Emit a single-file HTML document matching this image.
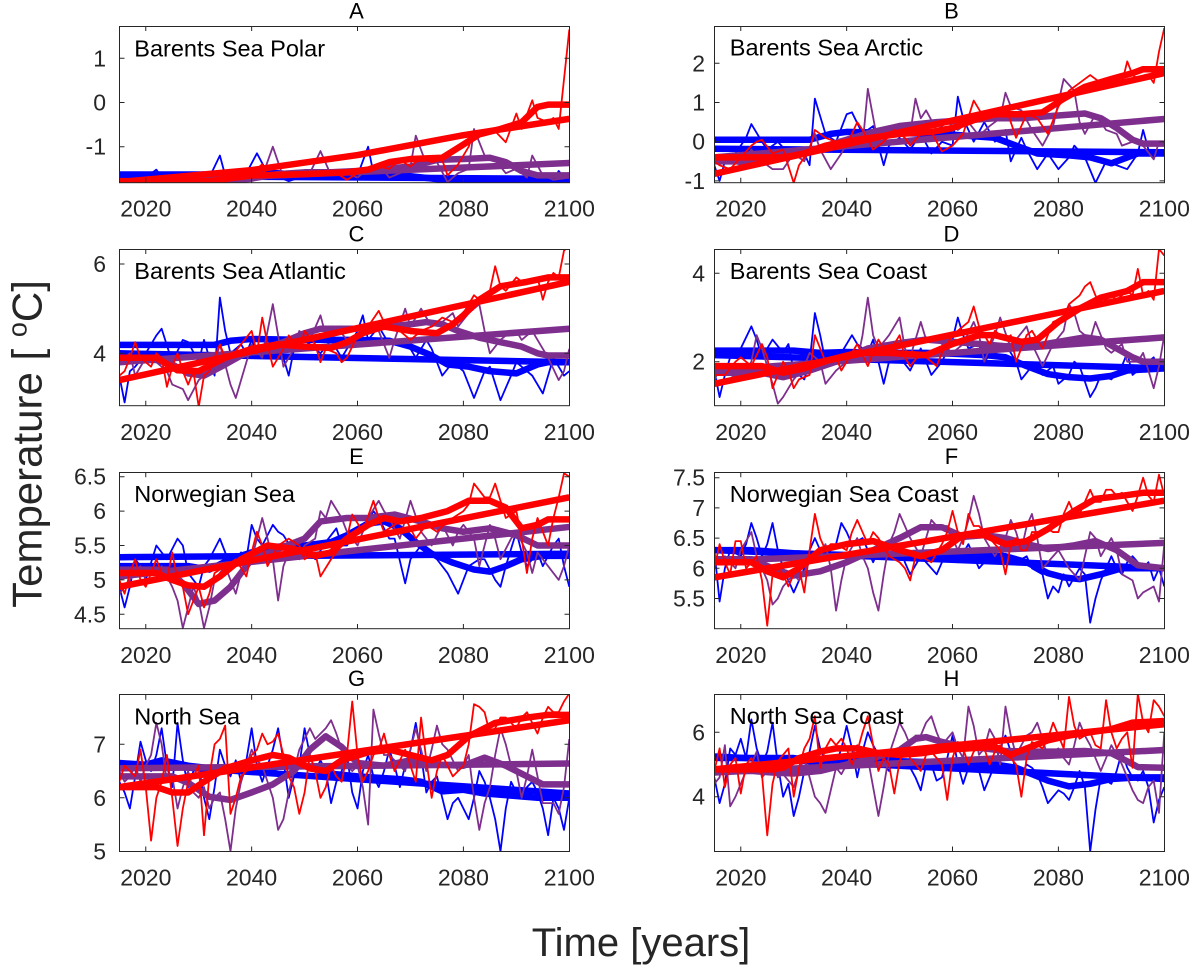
<!DOCTYPE html>
<html><head><meta charset="utf-8"><style>
html,body{margin:0;padding:0;background:#fff}
svg{display:block}
.t{fill:none;stroke-width:1.8px;vector-effect:non-scaling-stroke;stroke-linejoin:round}
.k{fill:none;stroke-width:6.5px;vector-effect:non-scaling-stroke;stroke-linejoin:round}
.b{stroke:#0000ff}.p{stroke:#7e2f8e}.r{stroke:#ff0000}
.tl{font-family:"Liberation Sans",Arial,sans-serif;font-size:23px;fill:#262626}
.ttl{font-family:"Liberation Sans",Arial,sans-serif;font-size:22px;fill:#000}
.lb{font-family:"Liberation Sans",Arial,sans-serif;font-size:23.5px;fill:#000}
.ax{font-family:"Liberation Sans",Arial,sans-serif;fill:#262626}
</style></head><body>
<svg width="1193" height="965" viewBox="0 0 1193 965" xmlns="http://www.w3.org/2000/svg">
<defs>
<clipPath id="cA"><rect x="119.3" y="26" width="450" height="156.7"/></clipPath>
<clipPath id="cB"><rect x="714.3" y="26" width="450" height="156.7"/></clipPath>
<clipPath id="cC"><rect x="119.3" y="249" width="450" height="156.7"/></clipPath>
<clipPath id="cD"><rect x="714.3" y="249" width="450" height="156.7"/></clipPath>
<clipPath id="cE"><rect x="119.3" y="472.3" width="450" height="156.7"/></clipPath>
<clipPath id="cF"><rect x="714.3" y="472.3" width="450" height="156.7"/></clipPath>
<clipPath id="cG"><rect x="119.3" y="694.3" width="450" height="157.4"/></clipPath>
<clipPath id="cH"><rect x="714.3" y="694.3" width="450" height="157.4"/></clipPath>
<g id="xt"><path d="M26.47 156.7v-5M26.47 0v5M132.35 156.7v-5M132.35 0v5M238.2 156.7v-5M238.2 0v5M344.1 156.7v-5M344.1 0v5" stroke="#262626" stroke-width="1" fill="none"/></g>
</defs>
<rect width="1193" height="965" fill="#fff"/>

<!-- Panel A -->
<g clip-path="url(#cA)"><g transform="matrix(5.2941,0,0,-44.2,39.89,102.47)">
<polyline class="t b" points="15,-1.72 16,-1.7 18,-1.72 20,-1.7 22,-1.52 23,-1.7 25,-1.72 28,-1.7 30,-1.72 32,-1.7 34,-1.2 35,-1.65 37,-1.68 39,-1.6 41,-1.15 43,-1.6 45,-1.68 47,-1.78 49,-1.7 52,-1.72 55,-1.68 58,-1.7 60,-1.65 62,-1.0 63,-1.6 65,-1.6 67,-1.45 69,-1.7 72,-1.72 75,-1.75 77,-1.8 80,-1.78 83,-1.8 86,-1.78 89,-1.8 92,-1.78 95,-1.8 97,-1.75 98,-1.55 99,-1.7 100,-1.72"/>
<polyline class="k b" points="15,-1.63 35,-1.63 38,-1.6 45,-1.6 50,-1.65 60,-1.65 70,-1.67 74,-1.72 78,-1.78 100,-1.78"/>
<polyline class="k b" points="15,-1.66 100,-1.73"/>
<polyline class="t p" points="15,-1.8 20,-1.8 25,-1.78 30,-1.75 34,-1.65 36,-1.75 40,-1.7 42,-1.68 44,-1.0 46,-1.7 49,-1.65 51,-1.6 53,-1.1 55,-1.65 57,-1.55 60,-1.7 62,-1.5 64,-1.4 66,-1.7 68,-1.6 70,-1.45 71,-0.75 73,-1.4 75,-1.35 77,-1.8 79,-1.6 81,-1.5 82,-0.6 84,-1.2 86,-1.3 88,-1.6 90,-1.5 92,-1.7 93,-1.2 95,-1.65 97,-1.75 100,-1.7"/>
<polyline class="k p" points="15,-1.8 35,-1.8 40,-1.72 45,-1.62 50,-1.58 55,-1.58 60,-1.55 65,-1.5 70,-1.45 75,-1.3 80,-1.28 85,-1.25 88,-1.35 91,-1.55 94,-1.65 100,-1.65"/>
<polyline class="k p" points="15,-1.8 100,-1.37"/>
<polyline class="t r" points="15,-1.78 20,-1.76 25,-1.78 28,-1.75 32,-1.8 35,-1.72 38,-1.68 40,-1.6 42,-1.4 43,-1.7 45,-1.62 47,-1.65 49,-1.58 52,-1.65 54,-1.55 56,-1.6 58,-1.75 60,-1.6 62,-1.55 64,-1.45 66,-1.5 68,-1.3 70,-1.45 72,-1.25 74,-1.35 76,-1.3 77,-1.65 79,-1.4 81,-1.0 82,-0.65 84,-0.7 86,-0.65 88,-0.9 90,-0.25 91,-0.6 93,0.05 94,-0.35 96,-0.45 97,-0.35 98,-0.6 100,1.65"/>
<polyline class="k r" points="15,-1.78 32,-1.78 40,-1.65 50,-1.62 58,-1.58 62,-1.52 66,-1.35 70,-1.28 76,-1.25 80,-0.95 83,-0.72 87,-0.6 91,-0.45 94,-0.1 96,-0.05 100,-0.05"/>
<polyline class="k r" points="15,-1.8 40,-1.53 60,-1.19 80,-0.74 100,-0.37"/>
</g></g>

<!-- Panel B -->
<g clip-path="url(#cB)"><g transform="matrix(5.2941,0,0,-39.2,634.89,141.72)">
<polyline class="t b" points="15,-0.6 16,-1.0 17,-0.5 19,-0.3 21,0.1 22,0.45 24,0.0 25,-0.2 27,0.0 29,-0.3 30,-0.4 32,-0.3 33,-0.6 34,1.1 36,0.2 37,0.1 38,0.0 40,0.7 41,0.75 43,0.2 45,0.4 47,-0.6 48,-0.1 50,0.1 52,-0.2 54,0.2 56,-0.3 58,0.0 60,-0.1 61,1.15 62,0.6 64,0.0 66,0.5 68,0.0 70,0.3 71,-0.5 73,0.1 74,-0.2 76,-0.7 78,-0.3 80,-0.7 82,-0.4 83,-0.1 85,-0.4 87,-1.05 89,-0.5 91,-0.6 93,-0.7 95,-0.3 96,0.3 97,-0.2 98,-0.4 100,-0.2"/>
<polyline class="k b" points="15,0.05 33,0.05 37,0.2 40,0.25 50,0.22 58,0.2 63,0.15 68,0.1 72,-0.1 76,-0.3 82,-0.35 86,-0.4 90,-0.55 93,-0.4 95,-0.3 100,-0.3"/>
<polyline class="k b" points="15,-0.18 100,-0.27"/>
<polyline class="t p" points="15,-0.5 17,-0.4 20,-0.6 22,-0.2 24,-0.5 26,-0.7 28,-0.7 30,-0.3 32,-0.5 34,0.2 35,-0.2 37,-0.7 39,-0.3 41,0.2 43,-0.1 44,1.35 46,-0.1 48,0.2 50,0.3 52,0.2 53,1.1 54,0.6 55,0.8 57,0.3 59,0.5 61,0.3 63,0.5 65,0.15 67,0.4 69,0.6 70,1.25 71,0.9 73,0.8 75,0.3 77,-0.1 79,0.4 81,1.6 83,1.3 84,0.5 85,0.2 87,0.7 89,0.3 91,0.2 92,-0.1 94,0.0 96,-0.1 98,-0.45 99,0.0 100,-0.1"/>
<polyline class="k p" points="15,-0.5 25,-0.5 30,-0.35 35,-0.15 40,0.05 45,0.25 50,0.4 57,0.5 63,0.55 68,0.6 73,0.6 78,0.65 85,0.72 88,0.6 91,0.35 94,0.05 96,-0.05 100,-0.05"/>
<polyline class="k p" points="15,-0.4 100,0.58"/>
<polyline class="t r" points="15,-0.5 16,-0.6 18,-0.7 20,-0.4 22,-0.1 23,0.0 24,0.05 26,-0.3 28,-0.2 30,-1.05 31,-0.6 33,-0.2 34,0.3 36,0.1 38,0.0 40,-0.1 42,0.5 43,0.3 45,-0.2 47,0.0 49,0.3 51,0.1 52,-0.1 54,0.2 56,0.25 58,-0.25 60,-0.1 62,0.2 64,1.05 66,0.6 68,0.7 70,0.9 72,0.1 74,0.7 76,0.6 78,0.2 80,0.9 82,1.3 84,1.5 86,1.7 88,1.5 90,1.6 92,1.5 93,2.05 94,1.7 95,1.6 97,1.7 98,1.5 99,2.3 100,2.9"/>
<polyline class="k r" points="15,-0.4 28,-0.4 32,-0.3 36,-0.1 42,0.05 50,0.2 56,0.25 60,0.35 64,0.55 68,0.7 73,0.7 77,0.75 81,1.1 85,1.4 90,1.6 94,1.75 96,1.85 100,1.85"/>
<polyline class="k r" points="15,-0.82 100,1.75"/>
</g></g>

<!-- Panel C -->
<g clip-path="url(#cC)"><g transform="matrix(5.2941,0,0,-44.65,39.89,531.9)">
<polyline class="t b" points="15,3.5 16,2.9 17,3.6 18,3.7 20,4.0 22,4.4 23,4.55 25,3.8 27,4.3 28,4.25 30,3.8 31,4.3 32,3.9 33,3.5 34,5.25 35,4.5 36,4.0 38,4.2 39,4.0 40,4.3 41,4.0 43,4.3 44,4.2 46,3.9 47,3.5 48,4.1 49,4.4 51,4.2 53,4.0 55,4.3 57,3.9 58,4.1 60,4.5 61,4.85 62,4.3 64,4.6 66,4.2 68,4.3 70,4.1 71,3.9 73,4.3 74,4.1 76,3.5 78,3.8 80,3.6 82,3.0 84,3.6 85,3.7 87,2.95 89,3.5 90,3.8 92,3.6 93,3.5 95,3.1 97,3.9 98,3.7 99,3.5 100,3.6"/>
<polyline class="k b" points="15,4.19 33,4.19 36,4.28 40,4.32 50,4.3 60,4.3 66,4.28 70,4.15 74,3.95 77,3.75 81,3.7 85,3.6 90,3.55 94,3.75 96,3.8 100,3.8"/>
<polyline class="k b" points="15,4.0 100,3.8"/>
<polyline class="t p" points="15,3.8 17,4.0 18,3.5 20,3.9 22,3.8 24,3.6 25,3.3 27,3.2 28,2.95 30,3.4 31,3.5 33,3.8 34,4.2 36,3.3 37,3.0 39,3.8 40,4.2 42,3.9 44,5.1 45,4.4 46,3.7 48,4.1 49,4.5 51,4.3 53,4.85 54,4.4 56,4.6 58,4.3 60,4.4 62,4.6 64,4.5 66,3.9 67,4.3 69,5.0 70,4.6 72,5.0 74,4.6 76,4.7 78,4.9 79,4.6 81,4.9 83,5.1 84,4.5 85,4.0 87,4.3 88,4.4 90,4.5 91,4.3 93,4.5 94,4.3 96,3.9 98,3.4 99,3.6 100,4.1"/>
<polyline class="k p" points="15,3.85 22,3.85 25,3.75 28,3.55 31,3.5 35,3.75 38,3.95 42,4.1 46,4.25 50,4.45 53,4.55 60,4.55 66,4.6 70,4.65 73,4.7 76,4.65 79,4.5 83,4.35 87,4.25 91,4.15 94,4.0 96,3.95 100,3.95"/>
<polyline class="k p" points="15,3.8 100,4.55"/>
<polyline class="t r" points="15,3.5 16,3.6 17,3.9 18,4.25 19,3.9 21,3.7 22,4.0 23,3.9 24,3.25 25,3.7 26,4.0 27,3.6 28,3.3 29,3.6 30,2.8 31,3.5 32,3.6 34,4.2 35,3.9 36,3.9 38,4.2 40,4.5 41,4.0 42,4.8 43,4.2 44,3.7 46,4.1 47,4.4 49,4.1 50,4.5 52,4.2 53,3.8 54,4.1 56,4.0 57,3.8 58,3.9 60,4.4 62,4.6 64,4.95 65,4.7 66,4.6 68,4.5 70,4.3 72,4.5 74,4.6 76,4.8 78,4.7 80,4.9 82,5.3 83,5.2 85,5.4 86,5.95 87,5.5 88,5.4 90,5.7 91,5.6 93,5.6 94,5.7 95,5.2 96,5.6 97,5.8 98,5.7 99,6.3 100,6.4"/>
<polyline class="k r" points="15,3.9 22,3.9 26,3.62 30,3.6 35,3.9 40,4.1 45,4.2 50,4.15 55,4.12 58,4.25 61,4.45 65,4.6 70,4.5 75,4.45 78,4.65 80,4.85 83,5.2 87,5.5 92,5.6 96,5.7 100,5.7"/>
<polyline class="k r" points="15,3.4 100,5.6"/>
</g></g>

<!-- Panel D -->
<g clip-path="url(#cD)"><g transform="matrix(5.2941,0,0,-44.2,634.89,450.1)">
<polyline class="t b" points="15,1.8 16,1.2 17,1.7 18,2.1 20,2.3 22,2.8 23,2.5 24,2.1 26,2.5 28,2.2 29,2.4 30,1.8 32,1.6 33,2.0 34,3.1 35,2.6 36,2.0 38,2.1 39,2.2 41,2.6 42,2.4 44,2.2 45,2.5 47,1.5 48,2.0 50,2.1 52,1.8 54,2.3 56,1.7 58,2.0 60,2.5 61,3.0 62,2.6 63,2.3 65,2.4 66,2.0 68,2.3 70,2.4 72,2.0 73,1.6 75,1.9 77,1.7 79,1.9 80,1.5 82,1.7 83,2.0 84,1.9 86,1.2 87,1.4 88,1.7 90,1.6 92,1.9 93,2.2 94,1.7 95,1.8 97,2.0 98,2.1 99,1.8 100,1.9"/>
<polyline class="k b" points="15,2.25 30,2.25 35,2.2 40,2.22 48,2.2 55,2.2 60,2.18 66,2.15 70,2.1 74,1.9 78,1.72 82,1.65 86,1.62 90,1.68 93,1.8 100,1.85"/>
<polyline class="k b" points="15,2.15 100,1.85"/>
<polyline class="t p" points="15,1.6 16,1.8 18,1.7 20,1.6 22,2.0 23,2.6 24,2.3 26,1.5 27,1.05 28,1.2 30,1.6 32,1.9 33,2.2 35,2.0 36,1.5 38,1.8 39,1.9 41,2.1 42,2.0 43,2.6 44,3.45 45,2.6 46,2.3 48,2.6 50,3.0 51,2.3 52,2.1 54,2.9 55,2.5 57,2.5 59,2.3 60,2.2 62,2.4 64,2.9 65,2.6 66,2.0 68,2.6 69,3.0 71,2.3 72,2.5 74,2.8 75,2.4 77,1.9 79,2.4 81,2.7 82,3.3 83,3.1 84,2.7 86,2.5 87,2.9 89,2.3 90,2.2 92,2.4 93,2.0 95,2.0 96,2.2 98,1.4 99,1.9 100,2.6"/>
<polyline class="k p" points="15,1.75 24,1.75 28,1.65 33,1.8 38,2.0 44,2.3 50,2.42 55,2.5 60,2.45 65,2.4 70,2.35 75,2.35 80,2.45 85,2.55 88,2.5 91,2.3 94,2.1 96,2.0 100,2.0"/>
<polyline class="k p" points="15,1.8 100,2.55"/>
<polyline class="t r" points="15,1.7 17,1.7 19,2.0 20,2.1 22,1.9 24,2.4 25,2.1 26,1.4 28,2.0 29,1.8 30,1.4 31,1.6 33,1.7 34,2.6 35,2.3 36,2.0 38,2.1 39,1.8 41,2.2 42,2.4 44,1.9 46,2.5 47,2.3 48,2.2 50,2.6 51,2.1 52,1.9 54,2.2 55,2.1 57,1.9 58,2.2 60,2.6 62,2.8 63,2.9 64,3.25 65,2.8 67,2.4 68,2.7 70,2.5 71,2.6 72,2.0 74,2.6 75,2.7 77,2.3 78,2.6 79,2.9 81,3.0 82,3.3 84,3.5 85,3.7 86,3.8 87,3.5 88,3.3 90,3.5 91,3.4 93,3.6 94,3.5 95,4.1 96,3.5 97,3.6 98,3.4 99,4.55 100,4.4"/>
<polyline class="k r" points="15,1.9 24,1.9 28,1.75 32,1.85 37,2.05 42,2.2 48,2.2 55,2.15 60,2.4 65,2.6 68,2.6 73,2.45 76,2.5 80,2.9 84,3.2 88,3.45 93,3.6 96,3.8 100,3.8"/>
<polyline class="k r" points="15,1.5 100,3.6"/>
</g></g>

<!-- Panel E -->
<g clip-path="url(#cE)"><g transform="matrix(5.2941,0,0,-68.8,39.89,923.9)">
<polyline class="t b" points="15,4.9 16,4.6 17,4.9 18,5.3 19,5.2 20,5.0 22,5.5 23,5.4 24,5.3 26,5.6 27,5.5 28,5.1 30,4.9 31,5.2 32,5.3 34,5.6 35,5.4 36,5.2 38,5.4 39,5.3 40,5.8 41,5.6 42,5.5 44,5.8 45,5.7 46,5.65 48,5.4 49,5.6 50,5.5 52,5.3 54,5.55 56,5.75 57,5.5 58,5.5 60,5.75 61,5.7 63,6.0 64,5.9 66,5.6 67,5.6 69,4.95 70,5.3 72,5.5 73,5.4 75,5.3 77,5.1 79,4.8 80,5.0 81,5.2 83,5.3 84,5.3 86,5.0 87,4.9 88,5.2 90,5.7 91,5.4 92,5.2 94,5.4 95,5.2 97,5.5 98,5.6 99,5.2 100,4.9"/>
<polyline class="k b" points="15,5.2 28,5.2 32,5.15 36,5.3 40,5.4 44,5.48 50,5.5 55,5.55 58,5.65 62,5.82 65,5.85 68,5.75 71,5.55 74,5.38 78,5.25 82,5.15 85,5.12 88,5.2 91,5.3 95,5.35 100,5.35"/>
<polyline class="k b" points="15,5.33 100,5.38"/>
<polyline class="t p" points="15,4.8 17,5.0 19,5.2 20,5.0 22,5.0 23,5.2 25,4.9 26,4.7 27,4.3 28,4.6 29,4.9 30,4.7 31,4.3 32,4.6 33,5.0 35,5.2 36,5.0 37,4.8 38,5.1 40,5.3 42,5.9 43,5.6 44,5.3 45,4.7 46,5.2 47,5.4 49,5.3 50,5.5 52,5.6 53,6.0 54,5.9 55,6.15 57,5.9 58,5.7 60,5.5 62,5.9 64,6.15 65,6.0 66,5.9 68,5.6 70,6.15 72,5.7 74,5.5 76,5.8 78,5.5 79,5.7 80,5.8 82,5.6 83,5.2 85,5.8 86,5.6 87,5.3 89,5.6 90,5.7 92,5.4 93,5.1 94,5.4 96,5.2 97,5.1 98,5.0 99,5.2 100,5.5"/>
<polyline class="k p" points="15,5.15 24,5.15 27,4.95 30,4.65 33,4.7 36,4.9 40,5.3 45,5.45 50,5.6 53,5.85 58,5.9 62,5.9 67,5.95 72,5.85 76,5.75 80,5.7 85,5.75 90,5.65 94,5.5 100,5.5"/>
<polyline class="k p" points="15,5.05 100,5.77"/>
<polyline class="t r" points="15,5.0 16,4.8 17,5.1 18,5.3 19,5.0 20,4.9 21,5.1 22,5.3 23,5.1 24,5.0 25,5.4 26,5.0 27,4.9 28,4.5 29,4.7 30,4.9 31,4.6 32,4.8 33,5.1 35,5.2 37,5.3 39,5.05 40,5.4 41,5.7 42,5.5 43,5.2 45,5.5 47,5.6 49,5.5 50,5.3 52,5.4 53,5.05 55,5.3 57,5.5 58,5.6 59,5.95 61,5.7 63,6.15 64,5.9 65,5.7 67,5.8 69,5.9 71,5.6 73,5.8 75,5.7 77,5.85 78,5.9 80,6.0 81,6.1 82,6.4 84,6.2 85,6.2 86,6.4 88,5.9 90,6.0 91,5.6 92,5.1 93,5.6 94,5.9 96,5.5 97,5.9 98,6.2 99,6.55 100,6.5"/>
<polyline class="k r" points="15,5.1 22,5.1 25,5.0 28,4.92 31,4.9 34,5.05 38,5.3 43,5.5 48,5.45 52,5.35 55,5.4 58,5.6 62,5.8 65,5.9 68,5.85 72,5.9 77,6.0 81,6.15 85,6.15 88,6.05 91,5.75 94,5.8 96,5.88 100,5.88"/>
<polyline class="k r" points="15,4.9 100,6.2"/>
</g></g>

<!-- Panel F -->
<g clip-path="url(#cF)"><g transform="matrix(5.2941,0,0,-60.4,634.89,930.7)">
<polyline class="t b" points="15,6.3 16,5.45 17,6.0 18,6.3 20,6.2 21,6.4 22,6.75 23,6.5 24,6.2 25,6.4 26,6.75 27,6.3 28,6.0 30,5.6 31,5.8 32,6.0 33,6.3 34,6.5 35,6.3 36,6.2 38,6.4 39,6.75 40,6.6 41,6.4 43,6.5 45,6.1 46,6.3 47,6.3 49,6.2 50,6.4 51,6.1 52,5.9 54,6.2 55,6.1 57,5.9 59,6.3 60,6.2 61,6.1 63,6.4 65,6.0 66,6.1 67,6.2 69,6.3 70,6.2 72,6.1 74,6.2 75,6.0 76,5.95 77,5.9 78,5.5 79,5.7 80,5.6 81,5.9 82,5.7 84,6.0 85,5.9 86,5.1 87,5.5 88,5.8 90,6.2 91,6.0 92,5.9 93,6.1 94,6.2 96,6.0 97,6.1 98,5.8 99,6.0 100,5.7"/>
<polyline class="k b" points="15,6.3 22,6.3 30,6.25 40,6.22 50,6.2 60,6.2 70,6.2 74,6.1 78,5.92 81,5.85 84,5.82 88,5.9 92,6.0 100,6.0"/>
<polyline class="k b" points="15,6.3 100,6.0"/>
<polyline class="t p" points="15,6.1 17,6.2 19,6.0 20,6.3 22,6.6 23,6.2 24,6.0 25,5.8 26,5.4 27,5.5 28,5.7 30,5.9 31,5.8 33,6.1 35,6.2 36,6.4 37,6.0 38,5.3 39,5.8 40,6.2 42,6.5 43,6.2 44,6.0 45,5.6 46,5.3 47,5.9 48,6.4 49,6.6 50,6.9 51,6.7 52,6.5 54,6.2 56,6.8 57,6.7 59,6.7 60,6.5 61,6.3 62,6.5 63,6.8 64,7.2 65,6.9 66,6.5 68,6.2 70,6.5 71,6.8 72,6.6 73,6.3 74,6.7 75,6.9 76,6.5 77,6.0 79,6.2 80,6.3 82,6.0 84,5.8 86,6.6 87,6.5 88,6.2 90,6.5 91,6.3 92,5.9 94,5.8 95,5.5 96,5.6 98,5.7 99,5.45 100,6.4"/>
<polyline class="k p" points="15,6.15 22,6.15 26,6.0 30,5.88 35,5.95 40,6.1 45,6.3 50,6.5 54,6.68 58,6.68 62,6.52 66,6.55 70,6.5 74,6.4 78,6.32 83,6.38 87,6.45 91,6.3 95,6.05 100,6.0"/>
<polyline class="k p" points="15,6.12 100,6.42"/>
<polyline class="t r" points="15,6.0 16,6.4 17,6.1 18,5.9 19,6.45 20,6.45 21,6.0 22,6.1 23,6.2 24,5.8 25,5.05 26,5.9 27,6.0 28,5.9 29,5.7 30,5.9 31,6.0 32,5.6 33,6.3 34,6.9 35,6.5 36,6.3 37,6.4 38,6.4 40,6.3 41,6.6 42,6.8 43,6.6 44,6.4 45,6.6 46,6.5 48,6.2 50,6.1 51,6.0 52,5.8 53,6.2 54,6.2 56,6.1 58,6.4 59,6.6 60,6.95 61,6.6 62,6.4 63,6.9 64,6.7 65,6.7 66,6.6 67,6.5 68,6.4 69,6.3 70,5.9 71,6.4 72,6.5 73,6.3 74,6.3 75,6.6 76,6.6 78,6.65 79,6.6 80,6.6 81,6.9 82,7.1 83,6.9 84,6.9 85,7.1 86,7.3 87,7.1 88,7.1 89,7.3 90,7.3 91,7.2 92,7.25 93,7.1 94,6.95 95,7.2 96,7.5 97,7.2 98,7.1 99,7.55 100,7.2"/>
<polyline class="k r" points="15,6.1 22,6.1 25,5.95 28,5.85 31,6.0 35,6.3 40,6.4 45,6.45 50,6.3 54,6.2 58,6.3 62,6.55 66,6.55 70,6.4 74,6.45 78,6.65 83,6.95 87,7.15 92,7.2 96,7.25 100,7.25"/>
<polyline class="k r" points="15,5.85 100,7.12"/>
</g></g>

<!-- Panel G -->
<g clip-path="url(#cG)"><g transform="matrix(5.2941,0,0,-53.5,39.89,1118.8)">
<polyline class="t b" points="15,6.3 16,6.1 17,5.8 18,6.4 19,7.05 20,6.7 21,6.5 22,6.8 23,7.3 24,6.6 25,6.2 26,7.4 27,6.7 28,6.2 29,6.5 30,6.6 31,6.0 32,5.6 33,6.2 34,6.9 35,6.6 36,6.4 37,6.7 38,6.3 39,6.7 40,7.3 41,6.6 42,6.3 43,6.6 44,6.9 45,7.3 46,6.7 47,6.0 48,6.4 49,6.6 50,7.3 51,6.8 52,6.5 53,6.7 54,6.5 55,5.9 56,6.3 57,6.5 58,6.8 59,6.1 60,5.8 61,6.5 62,6.8 63,6.4 64,6.2 65,6.5 66,6.9 67,6.6 68,6.2 69,6.6 70,6.9 71,7.4 72,6.8 73,6.1 74,6.3 75,6.4 76,6.0 77,5.6 78,5.9 79,6.0 80,5.8 81,5.6 82,6.0 83,6.5 84,6.3 85,6.0 86,5.6 87,5.0 88,5.8 89,6.3 90,6.1 91,6.0 92,6.2 93,6.3 94,6.1 95,5.8 96,5.3 97,6.0 98,5.8 99,5.4 100,6.0"/>
<polyline class="k b" points="15,6.62 20,6.62 23,6.7 28,6.6 35,6.52 40,6.5 45,6.58 50,6.6 55,6.45 60,6.4 68,6.35 72,6.3 76,6.12 80,6.15 84,6.08 88,6.05 94,6.0 100,6.0"/>
<polyline class="k b" points="15,6.65 100,6.08"/>
<polyline class="t p" points="15,6.5 16,6.3 17,6.4 18,6.6 19,6.3 20,6.6 21,6.8 22,7.4 23,7.0 24,6.3 25,6.4 26,5.8 27,6.2 28,6.5 29,6.1 30,6.0 31,6.2 32,5.8 33,6.0 34,6.1 35,5.6 36,5.0 37,5.8 38,6.3 39,6.6 40,6.9 41,6.7 42,6.6 43,6.3 44,6.0 45,5.4 46,5.6 47,6.1 48,6.5 49,6.9 50,7.1 51,7.3 52,7.1 53,7.2 54,7.3 55,7.45 56,7.2 57,6.9 58,6.6 59,6.5 60,6.6 61,6.2 62,5.5 63,7.65 64,7.2 65,6.8 66,6.8 67,6.7 68,6.6 69,6.5 70,6.9 71,7.3 72,6.9 73,6.5 74,6.9 75,7.35 76,7.0 77,6.9 78,6.7 79,6.5 80,6.6 81,6.8 82,6.0 83,5.4 84,5.9 85,6.2 86,6.8 87,7.3 88,7.0 89,6.6 90,6.5 91,6.0 92,6.4 93,6.9 94,6.4 95,5.9 96,5.9 97,5.9 98,5.7 99,6.2 100,7.1"/>
<polyline class="k p" points="15,6.4 25,6.4 28,6.28 32,6.02 36,5.96 40,6.1 44,6.25 48,6.5 51,6.9 54,7.15 57,6.95 60,6.65 65,6.6 70,6.7 75,6.62 80,6.6 84,6.75 88,6.6 92,6.4 95,6.25 100,6.25"/>
<polyline class="k p" points="15,6.55 100,6.64"/>
<polyline class="t r" points="15,6.3 16,6.6 17,6.5 18,6.4 19,6.9 20,6.2 21,5.2 22,6.0 23,6.3 24,6.8 25,6.0 26,5.1 27,5.8 28,6.3 29,6.4 30,6.6 31,5.3 32,6.4 33,7.0 34,7.1 35,7.35 36,5.7 37,6.0 38,6.4 39,6.5 40,6.8 41,6.9 42,7.2 43,7.0 44,7.05 45,7.2 46,6.8 47,6.4 48,6.2 49,5.7 50,6.1 51,6.8 52,6.5 53,6.0 54,6.2 55,6.6 56,6.4 57,6.3 58,6.8 59,7.8 60,6.8 61,6.3 62,6.5 63,6.8 64,6.9 65,7.2 66,6.8 67,6.5 68,6.7 69,6.9 70,6.6 71,6.3 72,7.5 73,6.7 74,6.0 75,6.5 76,6.8 77,6.6 78,6.4 79,6.5 80,6.6 81,7.0 82,7.75 83,7.7 84,7.6 85,7.2 86,7.3 87,7.5 88,7.5 89,7.4 90,7.3 91,7.5 92,7.6 93,7.4 94,7.2 95,7.5 96,7.7 97,7.6 98,7.6 99,7.8 100,7.95"/>
<polyline class="k r" points="15,6.2 22,6.2 25,6.1 28,6.1 31,6.3 35,6.55 40,6.7 44,6.8 47,6.75 51,6.55 54,6.5 57,6.7 62,6.85 66,6.9 70,6.8 74,6.7 77,6.8 81,7.15 86,7.4 92,7.5 96,7.55 100,7.55"/>
<polyline class="k r" points="15,6.2 100,7.45"/>
</g></g>

<!-- Panel H -->
<g clip-path="url(#cH)"><g transform="matrix(5.2941,0,0,-32.2,634.89,925.5)">
<polyline class="t b" points="15,4.6 16,3.8 17,4.4 18,5.5 19,5.3 20,5.8 21,5.2 22,6.4 23,5.5 24,5.0 25,5.4 26,6.3 27,5.0 28,4.0 29,4.4 30,3.4 31,4.0 32,4.8 33,5.4 34,6.2 35,5.5 36,5.1 37,5.2 38,5.0 39,5.5 40,6.2 41,5.5 42,4.6 43,5.4 44,6.0 45,5.6 46,5.3 47,5.0 48,4.8 49,5.2 50,5.1 51,5.0 52,4.9 53,4.6 54,4.2 55,5.0 56,5.0 57,4.5 58,4.6 59,5.2 60,5.9 61,5.0 62,4.4 63,4.9 64,5.0 65,4.8 66,4.2 67,4.6 68,5.0 69,5.5 70,5.9 71,5.4 72,4.8 73,4.7 74,5.0 75,4.9 76,4.7 77,4.3 78,3.8 79,4.0 80,4.2 81,4.1 82,3.9 83,4.3 84,4.8 85,4.3 86,2.3 87,3.6 88,4.6 89,4.5 90,4.4 91,4.8 92,5.4 93,4.9 94,4.6 95,4.5 96,4.8 97,4.3 98,3.2 99,3.9 100,4.3"/>
<polyline class="k b" points="15,5.2 30,5.2 35,5.1 40,5.15 45,5.2 50,5.1 60,5.05 68,5.0 72,4.9 75,4.7 78,4.5 82,4.32 86,4.4 90,4.55 95,4.6 100,4.6"/>
<polyline class="k b" points="15,5.25 100,4.55"/>
<polyline class="t p" points="15,4.4 16,4.6 17,5.6 18,3.7 19,4.0 20,4.4 21,4.8 22,5.0 23,5.4 24,4.6 25,4.8 26,5.1 27,4.6 28,4.7 29,4.5 30,4.3 31,4.8 32,5.2 33,4.6 34,4.0 35,3.8 36,3.5 37,4.2 38,4.9 39,4.7 40,5.0 41,5.3 42,5.6 43,5.4 44,5.2 45,4.3 46,3.4 47,4.3 48,5.3 49,5.8 50,6.3 51,6.0 52,5.6 53,5.9 54,5.9 55,6.3 56,6.5 57,6.0 58,5.6 59,5.8 60,6.0 61,5.5 62,5.2 63,6.8 64,6.2 65,5.3 66,5.5 67,6.1 68,5.8 69,5.0 70,6.8 71,5.9 72,5.3 73,5.6 74,5.9 75,6.0 76,6.3 77,5.8 78,5.2 79,5.4 80,5.5 81,5.2 82,5.0 83,5.6 84,6.3 85,5.9 86,5.6 87,5.2 88,4.8 89,5.2 90,5.6 91,5.3 92,5.0 93,4.6 94,4.2 95,3.9 96,3.8 97,4.3 98,4.5 99,3.5 100,6.0"/>
<polyline class="k p" points="15,4.8 22,4.8 26,4.75 30,4.72 35,4.8 40,5.0 45,5.2 50,5.45 53,5.8 55,5.85 58,5.7 62,5.55 66,5.5 70,5.42 75,5.4 80,5.4 85,5.42 90,5.35 93,5.1 95,4.92 100,4.9"/>
<polyline class="k p" points="15,4.75 100,5.45"/>
<polyline class="t r" points="15,4.8 16,5.5 17,4.3 18,5.0 19,5.2 20,4.1 21,5.0 22,5.2 23,4.9 24,4.7 25,2.8 26,4.4 27,5.1 28,5.3 29,5.5 30,4.0 31,4.9 32,5.5 33,5.8 34,6.5 35,4.9 36,5.5 37,5.8 38,5.6 39,5.8 40,5.5 41,5.0 42,5.4 43,6.0 44,6.5 45,5.6 46,4.8 47,5.2 48,5.0 49,4.1 50,5.1 51,5.5 52,5.2 53,5.0 54,4.8 55,5.3 56,5.4 57,5.2 58,5.0 59,3.9 60,5.2 61,5.7 62,5.5 63,5.0 64,5.4 65,5.6 66,5.5 67,5.0 68,5.4 69,5.6 70,5.3 71,5.2 72,5.0 73,4.0 74,5.2 75,5.7 76,5.6 77,5.5 78,5.8 79,6.3 80,5.9 81,5.5 82,7.1 83,6.2 84,5.8 85,5.9 86,6.0 87,5.6 88,5.5 89,7.0 90,6.0 91,5.5 92,5.8 93,6.0 94,4.9 95,7.2 96,6.3 97,6.0 98,7.0 99,6.8 100,6.5"/>
<polyline class="k r" points="15,4.85 26,4.85 28,4.9 31,5.2 35,5.4 38,5.5 42,5.5 46,5.35 50,5.3 54,5.35 58,5.45 63,5.5 68,5.55 71,5.3 74,5.5 78,5.75 82,5.9 86,6.0 90,6.1 94,6.3 100,6.35"/>
<polyline class="k r" points="15,4.85 100,6.25"/>
</g></g>

<!-- Frames and ticks -->
<g fill="none" stroke="#262626" stroke-width="1">
<rect x="119.5" y="26.5" width="450" height="156.2"/>
<rect x="714.5" y="26.5" width="450" height="156.2"/>
<rect x="119.5" y="249.5" width="450" height="156.2"/>
<rect x="714.5" y="249.5" width="450" height="156.2"/>
<rect x="119.5" y="472.5" width="450" height="156.2"/>
<rect x="714.5" y="472.5" width="450" height="156.2"/>
<rect x="119.5" y="694.5" width="450" height="157"/>
<rect x="714.5" y="694.5" width="450" height="157"/>
<path d="M119.5 58.3h5M569.5 58.3h-5M119.5 102.5h5M569.5 102.5h-5M119.5 146.7h5M569.5 146.7h-5"/>
<path d="M714.5 63.3h5M1164.5 63.3h-5M714.5 102.5h5M1164.5 102.5h-5M714.5 141.7h5M1164.5 141.7h-5M714.5 180.9h5M1164.5 180.9h-5"/>
<path d="M119.5 264h5M569.5 264h-5M119.5 353.3h5M569.5 353.3h-5"/>
<path d="M714.5 273.3h5M1164.5 273.3h-5M714.5 361.7h5M1164.5 361.7h-5"/>
<path d="M119.5 476.7h5M569.5 476.7h-5M119.5 511.1h5M569.5 511.1h-5M119.5 545.5h5M569.5 545.5h-5M119.5 579.9h5M569.5 579.9h-5M119.5 614.3h5M569.5 614.3h-5"/>
<path d="M714.5 477.7h5M1164.5 477.7h-5M714.5 507.9h5M1164.5 507.9h-5M714.5 538.1h5M1164.5 538.1h-5M714.5 568.3h5M1164.5 568.3h-5M714.5 598.5h5M1164.5 598.5h-5"/>
<path d="M119.5 744.3h5M569.5 744.3h-5M119.5 797.8h5M569.5 797.8h-5"/>
<path d="M714.5 732.3h5M1164.5 732.3h-5M714.5 796.7h5M1164.5 796.7h-5"/>
</g>
<use href="#xt" x="119.3" y="26"/>
<use href="#xt" x="714.3" y="26"/>
<use href="#xt" x="119.3" y="249"/>
<use href="#xt" x="714.3" y="249"/>
<use href="#xt" x="119.3" y="472.3"/>
<use href="#xt" x="714.3" y="472.3"/>
<use href="#xt" x="119.3" y="694.8"/>
<use href="#xt" x="714.3" y="694.8"/>

<!-- Titles -->
<g class="ttl" text-anchor="middle">
<text x="356.5" y="18.5">A</text>
<text x="951.5" y="18.5">B</text>
<text x="356.5" y="241.5">C</text>
<text x="951.5" y="241.5">D</text>
<text x="356.5" y="464">E</text>
<text x="951.5" y="464">F</text>
<text x="356.5" y="686">G</text>
<text x="951.5" y="686">H</text>
</g>

<!-- Panel labels -->
<g class="lb">
<text x="134.3" y="56.5">Barents Sea Polar</text>
<text x="729.8" y="55.5">Barents Sea Arctic</text>
<text x="134.3" y="279">Barents Sea Atlantic</text>
<text x="729.8" y="279">Barents Sea Coast</text>
<text x="134.3" y="502">Norwegian Sea</text>
<text x="729.8" y="502">Norwegian Sea Coast</text>
<text x="134.3" y="724.5">North Sea</text>
<text x="729.8" y="724">North Sea Coast</text>
</g>

<!-- X tick labels -->
<g class="tl" text-anchor="middle">
<text x="145.8" y="216.7">2020</text><text x="251.6" y="216.7">2040</text><text x="357.5" y="216.7">2060</text><text x="463.4" y="216.7">2080</text><text x="569.3" y="216.7">2100</text>
<text x="740.8" y="216.7">2020</text><text x="846.6" y="216.7">2040</text><text x="952.5" y="216.7">2060</text><text x="1058.4" y="216.7">2080</text><text x="1164.3" y="216.7">2100</text>
<text x="145.8" y="440">2020</text><text x="251.6" y="440">2040</text><text x="357.5" y="440">2060</text><text x="463.4" y="440">2080</text><text x="569.3" y="440">2100</text>
<text x="740.8" y="440">2020</text><text x="846.6" y="440">2040</text><text x="952.5" y="440">2060</text><text x="1058.4" y="440">2080</text><text x="1164.3" y="440">2100</text>
<text x="145.8" y="663">2020</text><text x="251.6" y="663">2040</text><text x="357.5" y="663">2060</text><text x="463.4" y="663">2080</text><text x="569.3" y="663">2100</text>
<text x="740.8" y="663">2020</text><text x="846.6" y="663">2040</text><text x="952.5" y="663">2060</text><text x="1058.4" y="663">2080</text><text x="1164.3" y="663">2100</text>
<text x="145.8" y="885.5">2020</text><text x="251.6" y="885.5">2040</text><text x="357.5" y="885.5">2060</text><text x="463.4" y="885.5">2080</text><text x="569.3" y="885.5">2100</text>
<text x="740.8" y="885.5">2020</text><text x="846.6" y="885.5">2040</text><text x="952.5" y="885.5">2060</text><text x="1058.4" y="885.5">2080</text><text x="1164.3" y="885.5">2100</text>
</g>

<!-- Y tick labels -->
<g class="tl" text-anchor="end">
<text x="106" y="66.3">1</text><text x="106" y="110.5">0</text><text x="106" y="154.7">-1</text>
<text x="705" y="71.3">2</text><text x="705" y="110.5">1</text><text x="705" y="149.7">0</text><text x="705" y="188.9">-1</text>
<text x="106" y="272">6</text><text x="106" y="361.3">4</text>
<text x="705" y="281.3">4</text><text x="705" y="369.7">2</text>
<text x="106" y="484.7">6.5</text><text x="106" y="519.1">6</text><text x="106" y="553.5">5.5</text><text x="106" y="587.9">5</text><text x="106" y="622.3">4.5</text>
<text x="705" y="485.7">7.5</text><text x="705" y="515.9">7</text><text x="705" y="546.1">6.5</text><text x="705" y="576.3">6</text><text x="705" y="606.5">5.5</text>
<text x="106" y="752.3">7</text><text x="106" y="805.8">6</text><text x="106" y="859.3">5</text>
<text x="705" y="740.3">6</text><text x="705" y="804.7">4</text>
</g>

<!-- Axis labels -->
<text class="ax" x="641" y="956" font-size="40" text-anchor="middle">Time [years]</text>
<text class="ax" transform="translate(41.5,444) rotate(-90)" font-size="42" text-anchor="middle">Temperature [ <tspan font-size="27" dy="-15">o</tspan><tspan dy="15">C]</tspan></text>
</svg>
</body></html>
